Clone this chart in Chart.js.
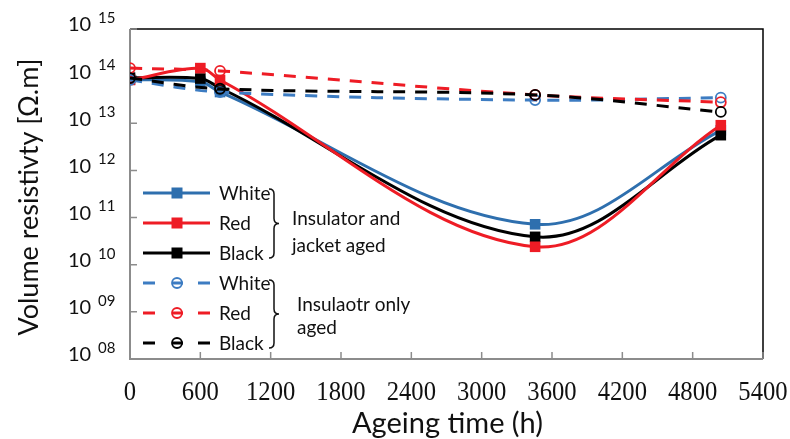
<!DOCTYPE html>
<html>
<head>
<meta charset="utf-8">
<script src="https://cdn.jsdelivr.net/npm/chart.js@4.4.0/dist/chart.umd.min.js"></script>
<style>
body{margin:0;background:#fff}
#wrap{width:790px;height:439px;position:relative}
</style>
</head>
<body>
<div id="wrap"><canvas id="chart"></canvas></div>
<script>

// =============================
// DATA
// =============================

// ageing times (h)
const hoursJacket = [0, 600, 768, 3456, 5040]
const hoursInsulator = [0, 768, 3456, 5040]

// volume resistivity (ohm.m), insulator and jacket aged
const whiteJacket = [8.5e13, 7.6e13, 4.6e13, 7.2e10, 7.1e12]
const redJacket = [8.3e13, 1.48e14, 8.3e13, 2.4e10, 9.1e12]
const blackJacket = [9.3e13, 8.9e13, 5.6e13, 3.9e10, 5.6e12]

// volume resistivity (ohm.m), insulator only aged
const whiteInsulator = [8.3e13, 4.6e13, 3.1e13, 3.5e13]
const redInsulator = [1.48e14, 1.29e14, 4.0e13, 2.8e13]
const blackInsulator = [9.1e13, 5.4e13, 4.0e13, 1.74e13]

// axis ticks
const xTicks = [0, 600, 1200, 1800, 2400, 3000, 3600, 4200, 4800, 5400]
const yTicks = [1e15, 1e14, 1e13, 1e12, 1e11, 1e10, 1e9, 1e8]
const yTickExp = ["15", "14", "13", "12", "11", "10", "09", "08"]

const legendNames = ["White", "Red", "Black", "White", "Red", "Black"]
const groupNames = [["Insulator and", "jacket aged"], ["Insulaotr only", "aged"]]


// =============================
// STYLES
// =============================

const BLUE = "#2e6fae"
const BLUE_D = "#3d7cc2"
const RED = "#ee1c25"
const BLACK = "#000000"

function pts(xs, ys){
return xs.map((x, i) => ({x: x, y: ys[i]}))
}

function solidSet(label, ys, color){
return {
label: label,
data: pts(hoursJacket, ys),
borderColor: color,
backgroundColor: color,
borderWidth: 3,
tension: 0.35,
pointStyle: "rect",
pointRadius: 7.5,
pointBorderWidth: 0,
pointBackgroundColor: color
}
}

function dashedSet(label, ys, color){
return {
label: label,
data: pts(hoursInsulator, ys),
borderColor: color,
backgroundColor: "rgba(0,0,0,0)",
borderWidth: 3,
borderDash: [12, 10],
tension: 0.35,
pointStyle: "circle",
pointRadius: 5,
pointBorderWidth: 1.8,
pointBorderColor: color,
pointBackgroundColor: "rgba(0,0,0,0)"
}
}


// =============================
// FRAME, TICKS, LABELS, LEGEND
// =============================

function drawBrace(ctx, x, y1, y2){
const ym = (y1 + y2) / 2
ctx.beginPath()
ctx.moveTo(x - 5, y1)
ctx.quadraticCurveTo(x, y1, x, y1 + 5)
ctx.lineTo(x, ym - 5)
ctx.quadraticCurveTo(x, ym, x + 5, ym)
ctx.quadraticCurveTo(x, ym, x, ym + 5)
ctx.lineTo(x, y2 - 5)
ctx.quadraticCurveTo(x, y2, x - 5, y2)
ctx.stroke()
}

const framePlugin = {
id: "frame",
beforeDatasetsDraw(chart){
const ctx = chart.ctx
const a = chart.chartArea
const xs = chart.scales.x
const ys = chart.scales.y
ctx.save()
// top / right border
ctx.strokeStyle = "#000"
ctx.lineWidth = 1.5
ctx.beginPath()
ctx.moveTo(a.left, a.top)
ctx.lineTo(a.right, a.top)
ctx.lineTo(a.right, a.bottom)
ctx.stroke()
// left / bottom axes
ctx.strokeStyle = "#8c8c8c"
ctx.lineWidth = 2
ctx.beginPath()
ctx.moveTo(a.left, a.top)
ctx.lineTo(a.left, a.bottom)
ctx.lineTo(a.right, a.bottom)
ctx.stroke()
// inward ticks
ctx.lineWidth = 1.5
ctx.beginPath()
yTicks.forEach(v => {
const y = ys.getPixelForValue(v)
ctx.moveTo(a.left, y)
ctx.lineTo(a.left + 7, y)
})
xTicks.forEach(v => {
const x = xs.getPixelForValue(v)
ctx.moveTo(x, a.bottom)
ctx.lineTo(x, a.bottom - 7)
})
ctx.stroke()
ctx.restore()
},
afterDraw(chart){
const ctx = chart.ctx
const a = chart.chartArea
const xs = chart.scales.x
const ys = chart.scales.y
ctx.save()
ctx.fillStyle = "#111"

// y tick labels 10^n
ctx.textBaseline = "middle"
ctx.textAlign = "left"
yTicks.forEach((v, i) => {
const y = ys.getPixelForValue(v)
ctx.font = "20px Lato"
ctx.fillText("10", 68, y - 4)
ctx.font = "15px Lato"
ctx.fillText(yTickExp[i], 98, y - 11)
})

// x tick labels
ctx.textAlign = "center"
ctx.font = "28px 'Liberation Serif'"
xTicks.forEach(v => {
const x = xs.getPixelForValue(v)
ctx.save()
ctx.translate(x, 393)
ctx.scale(0.88, 1)
ctx.fillText(String(v), 0, 0)
ctx.restore()
})

// axis titles
ctx.font = "29px Lato"
ctx.fillText("Ageing time (h)", (a.left + a.right) / 2 + 1, 424)
ctx.font = "27px Lato"
ctx.save()
ctx.translate(29, 197)
ctx.rotate(-Math.PI / 2)
ctx.fillText("Volume resistivty [\u03A9.m]", 0, 0)
ctx.restore()

// legend
const colors = [BLUE, RED, BLACK, BLUE_D, RED, BLACK]
ctx.textAlign = "left"
ctx.font = "19px Lato"
legendNames.forEach((name, i) => {
const y = 193 + i * 30
const c = colors[i]
ctx.strokeStyle = c
ctx.lineWidth = 3
if(i < 3){
ctx.beginPath()
ctx.moveTo(143, y)
ctx.lineTo(210, y)
ctx.stroke()
ctx.fillStyle = c
ctx.fillRect(177 - 5.5, y - 5.5, 11, 11)
} else {
ctx.beginPath()
ctx.moveTo(143, y)
ctx.lineTo(155, y)
ctx.moveTo(172, y)
ctx.lineTo(183, y)
ctx.moveTo(198, y)
ctx.lineTo(210, y)
ctx.stroke()
ctx.lineWidth = 1.8
ctx.beginPath()
ctx.arc(177, y, 5, 0, Math.PI * 2)
ctx.stroke()
}
ctx.fillStyle = "#111"
ctx.fillText(name, 219, y + 1)
})

// braces and group labels
ctx.strokeStyle = "#111"
ctx.lineWidth = 1.5
drawBrace(ctx, 274, 189, 258)
drawBrace(ctx, 274, 280, 348)
ctx.font = "19px Lato"
ctx.fillText(groupNames[0][0], 292, 219)
ctx.fillText(groupNames[0][1], 292, 246)
ctx.fillText(groupNames[1][0], 297, 305)
ctx.fillText(groupNames[1][1], 297, 328)

ctx.restore()
}
}


// =============================
// CHART
// =============================

new Chart(document.getElementById("chart"), {
type: "line",
data: {
datasets: [
dashedSet("Black (insulator only)", blackInsulator, BLACK),
dashedSet("Red (insulator only)", redInsulator, RED),
dashedSet("White (insulator only)", whiteInsulator, BLUE_D),
solidSet("Red", redJacket, RED),
solidSet("Black", blackJacket, BLACK),
solidSet("White", whiteJacket, BLUE)
]
},
options: {
responsive: true,
maintainAspectRatio: false,
animation: false,
layout: {padding: {left: 130, right: 27, top: 29, bottom: 80}},
plugins: {legend: {display: false}, tooltip: {enabled: false}},
scales: {
x: {type: "linear", min: 0, max: 5400, display: false},
y: {type: "logarithmic", min: 1e8, max: 1e15, display: false}
}
},
plugins: [framePlugin]
})

</script>
</body>
</html>
